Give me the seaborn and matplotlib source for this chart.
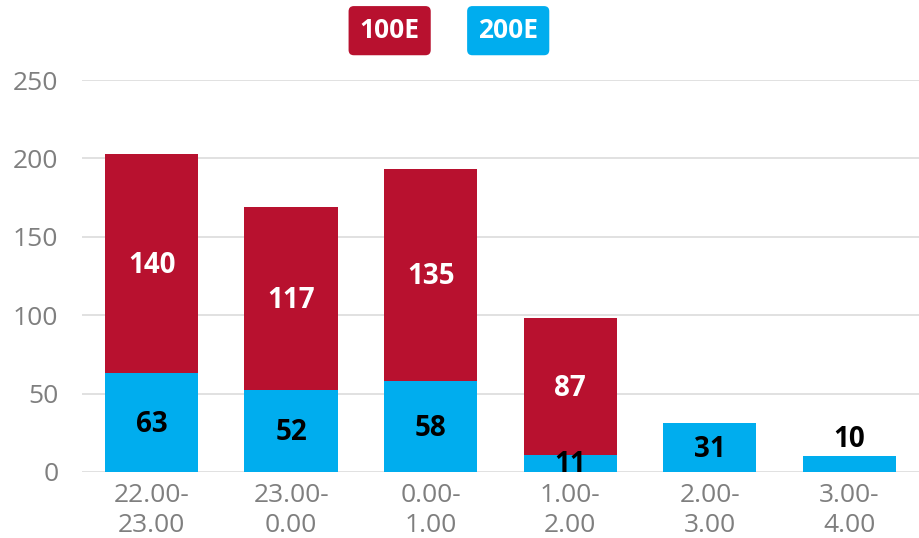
import matplotlib
matplotlib.use("Agg")
import matplotlib.pyplot as plt
import seaborn as sns
import numpy as np

categories = ["22.00-\n23.00", "23.00-\n0.00", "0.00-\n1.00", "1.00-\n2.00", "2.00-\n3.00", "3.00-\n4.00"]
e100 = [140, 117, 135, 87, 0, 0]
e200 = [63, 52, 58, 11, 31, 10]

red = "#B8112F"
blue = "#00ADEE"

sns.set_style("white")
plt.rcParams["font.family"] = ["Open Sans", "DejaVu Sans"]

fig = plt.figure(figsize=(9.19, 5.38), dpi=100)
ax = fig.add_axes([0.0892, 0.1227, 0.9108, 0.7286])

totals = np.array(e100) + np.array(e200)
sns.barplot(x=categories, y=totals, color=red, width=0.67, saturation=1,
            linewidth=0, ax=ax)
sns.barplot(x=categories, y=e200, color=blue, width=0.67, saturation=1,
            linewidth=0, ax=ax)

# value labels
for i, (a, b) in enumerate(zip(e100, e200)):
    if a > 0:
        ax.text(i, b + a / 2 - 1, str(a), ha="center", va="center", color="white",
                fontsize=20, fontweight="bold")
    if a == 0 and b < 15:
        ax.text(i, b + 1.5, str(b), ha="center", va="bottom", color="black",
                fontsize=20, fontweight="bold")
    else:
        ax.text(i, b / 2 - 1, str(b), ha="center", va="center", color="black",
                fontsize=20, fontweight="bold")

ax.set_ylim(0, 250)
ax.set_xlim(-0.5, 5.5)
ax.set_yticks([0, 50, 100, 150, 200, 250])
ax.grid(axis="y", color="#dcdcdc", linewidth=1.2)
ax.set_axisbelow(True)
for s in ax.spines.values():
    s.set_visible(False)
ax.tick_params(axis="both", length=0, labelsize=19, labelcolor="#7f7f7f")
ax.tick_params(axis="y", pad=17)
ax.tick_params(axis="x", pad=8)
ax.set_xlabel("")
ax.set_ylabel("")
for lbl in ax.get_xticklabels():
    lbl.set_linespacing(1.28)

# legend as colored boxes
fig.text(0.424, 0.943, "100E", ha="center", va="center", color="white", fontsize=19,
         fontweight="bold",
         bbox=dict(boxstyle="round,pad=0.42,rounding_size=0.2", fc=red, ec="none"))
fig.text(0.553, 0.943, "200E", ha="center", va="center", color="white", fontsize=19,
         fontweight="bold",
         bbox=dict(boxstyle="round,pad=0.42,rounding_size=0.2", fc=blue, ec="none"))

fig.savefig("out.png", dpi=100)
